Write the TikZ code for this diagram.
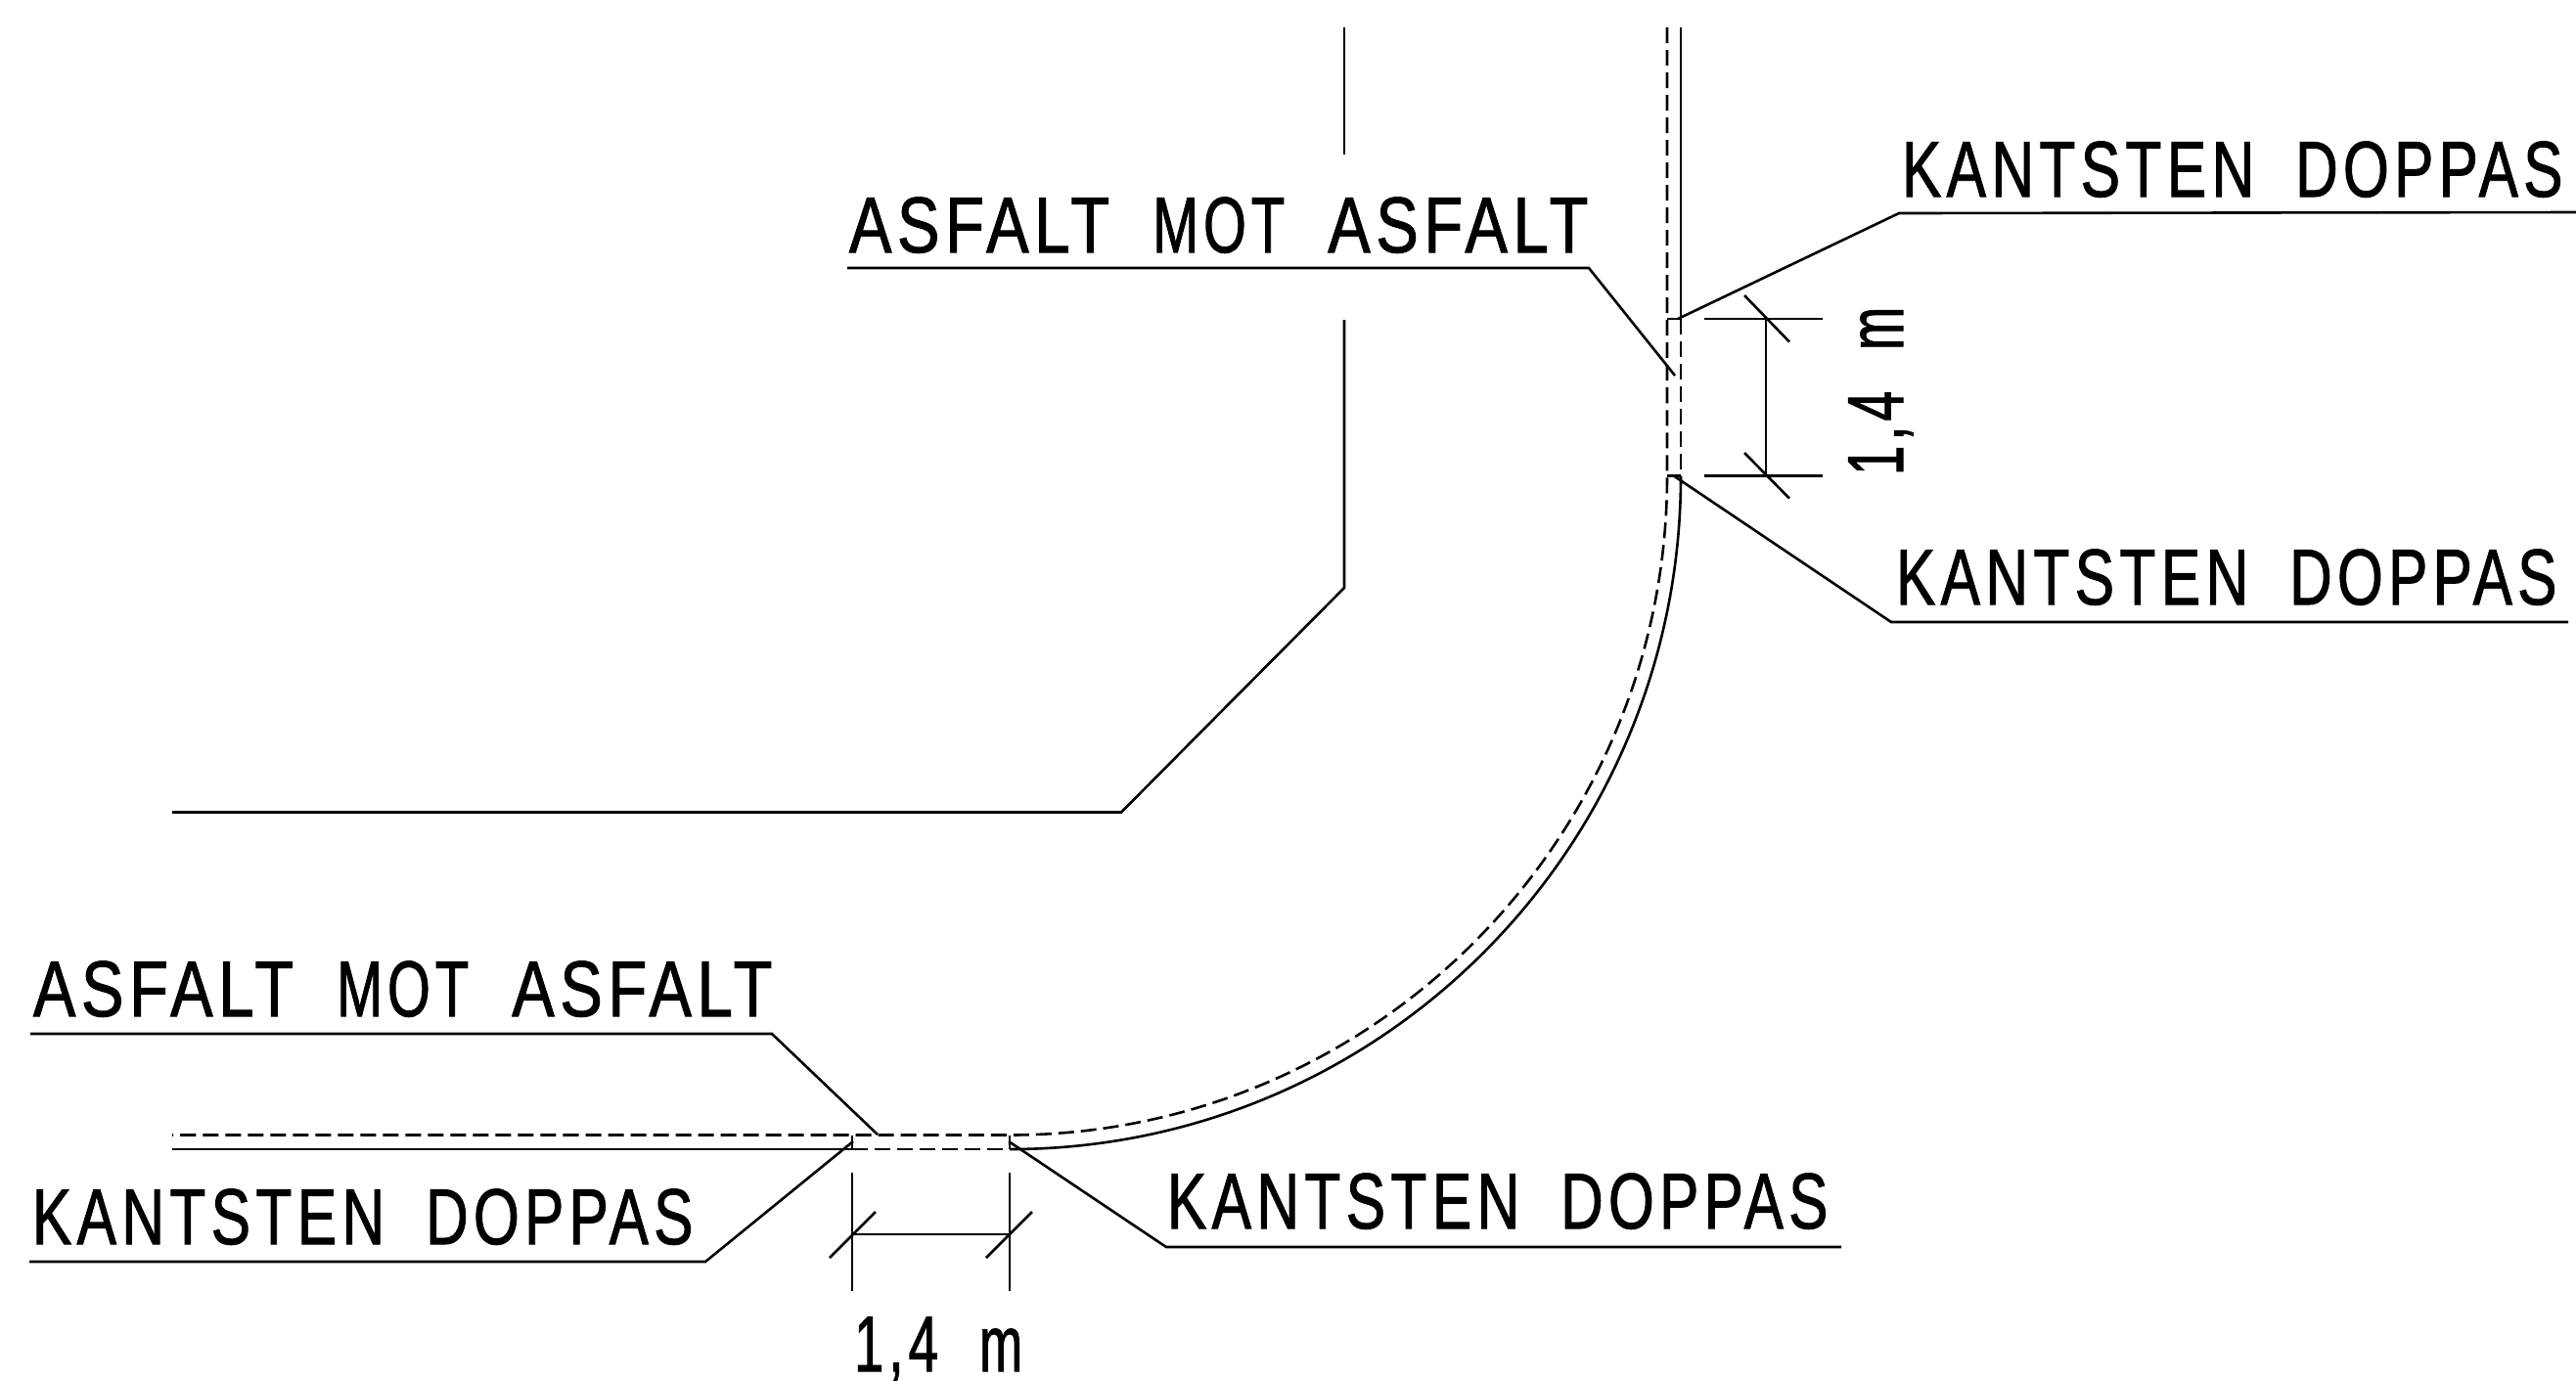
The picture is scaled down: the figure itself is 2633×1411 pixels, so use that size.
\documentclass[tikz,border=0pt]{standalone}
\usepackage{graphicx}
\usepackage{fontspec}
\newfontfamily\lblfont[FakeStretch=0.78,LetterSpace=7,FakeBold=1.2]{Liberation Sans}
\newcommand\wrd[2]{\resizebox{#1}{\height}{#2}}
\newcommand\asftxt{\wrd{2.66cm}{ASFALT}\hspace{.44cm}\wrd{1.35cm}{MOT}\hspace{.44cm}\wrd{2.66cm}{ASFALT}}
\newcommand\kanttxt{\wrd{3.60cm}{KANTSTEN}\hspace{.42cm}\wrd{2.73cm}{DOPPAS}}
\newcommand\dimtxt{\wrd{.86cm}{1,4}\hspace{.42cm}\wrd{.44cm}{m}}
\tikzset{
  ln/.style={line width=.026cm,black},
  dsh/.style={ln,dash pattern=on .16cm off .07cm},
  lbl/.style={anchor=base west,inner sep=0pt,outer sep=0pt,font=\fontsize{23pt}{24pt}\lblfont},
}
\begin{document}
\begin{tikzpicture}[x=.01cm,y=-.01cm]
\useasboundingbox (0,0) rectangle (2633,1411);
% texts
\node[lbl] (a1) at (868,258) {\asftxt};
\node[lbl] (a2) at (34,1039) {\asftxt};
\node[lbl] (k1) at (1944,201) {\kanttxt};
\node[lbl] (k2) at (1938,618) {\kanttxt};
\node[lbl] (k3) at (1193,1256) {\kanttxt};
\node[lbl] (k4) at (33,1272) {\kanttxt};
\node[lbl] (d1) at (873,1402) {\dimtxt};
\node[lbl,rotate=90] (d2) at (1945,486) {\dimtxt};
% anchor points
\coordinate (a1s) at (866,274); \coordinate (a1k) at (1624,274); \coordinate (a1e) at (1712,384);
\coordinate (a2s) at (31,1057); \coordinate (a2k) at (789,1057); \coordinate (a2e) at (897,1160);
\coordinate (k1s) at (2633,217); \coordinate (k1k) at (1941,218); \coordinate (k1e) at (1715,326);
\coordinate (k2s) at (2625,636); \coordinate (k2k) at (1933,636); \coordinate (k2e) at (1710,486);
\coordinate (k3s) at (1882,1275); \coordinate (k3k) at (1192,1275); \coordinate (k3e) at (1031,1167);
\coordinate (k4s) at (30,1290); \coordinate (k4k) at (721,1290); \coordinate (k4e) at (872,1167);
% leaders
\draw[ln] (a1s) -- (a1k) -- (a1e);
\draw[ln] (a2s) -- (a2k) -- (a2e);
\draw[ln] (k1s) -- (k1k) -- (k1e);
\draw[ln] (k2s) -- (k2k) -- (k2e);
\draw[ln] (k3s) -- (k3k) -- (k3e);
\draw[ln] (k4s) -- (k4k) -- (k4e);
% centre / other kerb
\draw[ln] (1374,28) -- (1374,158);
\draw[ln] (1374,327) -- (1374,601) -- (1146,830.5) -- (176,830.5);
% kerb solid
\draw[ln] (1718,28) -- (1718,326);
\draw[ln] (1718,486.5) .. controls (1718,866.5) and (1411,1175) .. (1032,1175);
\draw[ln] (176,1175) -- (871,1175);
% kerb dipped parts
\draw[dsh] (1718,326) -- (1718,486.5);
\draw[dsh] (871,1175) -- (1032,1175);
% back edge dashed
\draw[dsh] (1704,28) -- (1704,486.5) .. controls (1704,858.5) and (1403,1160.5) .. (1032,1160.5) -- (176,1160.5);
% end ticks
\draw[ln] (1704,326) -- (1718,326);
\draw[ln] (1704,486.5) -- (1718,486.5);
\draw[ln] (871,1160.5) -- (871,1175);
\draw[ln] (1032,1160.5) -- (1032,1175);
% dimensions
\draw[ln] (1742,326) -- (1863,326);
\draw[ln] (1742,486.5) -- (1863,486.5);
\draw[ln] (1805,326) -- (1805,486.5);
\draw[ln] (1783,302) -- (1829,349.5);
\draw[ln] (1783,463) -- (1829,509.5);
\draw[ln] (871,1199) -- (871,1320);
\draw[ln] (1032,1199) -- (1032,1320);
\draw[ln] (871,1262) -- (1032,1262);
\draw[ln] (848,1286) -- (895,1239);
\draw[ln] (1008,1286) -- (1055,1239);
\end{tikzpicture}
\end{document}
